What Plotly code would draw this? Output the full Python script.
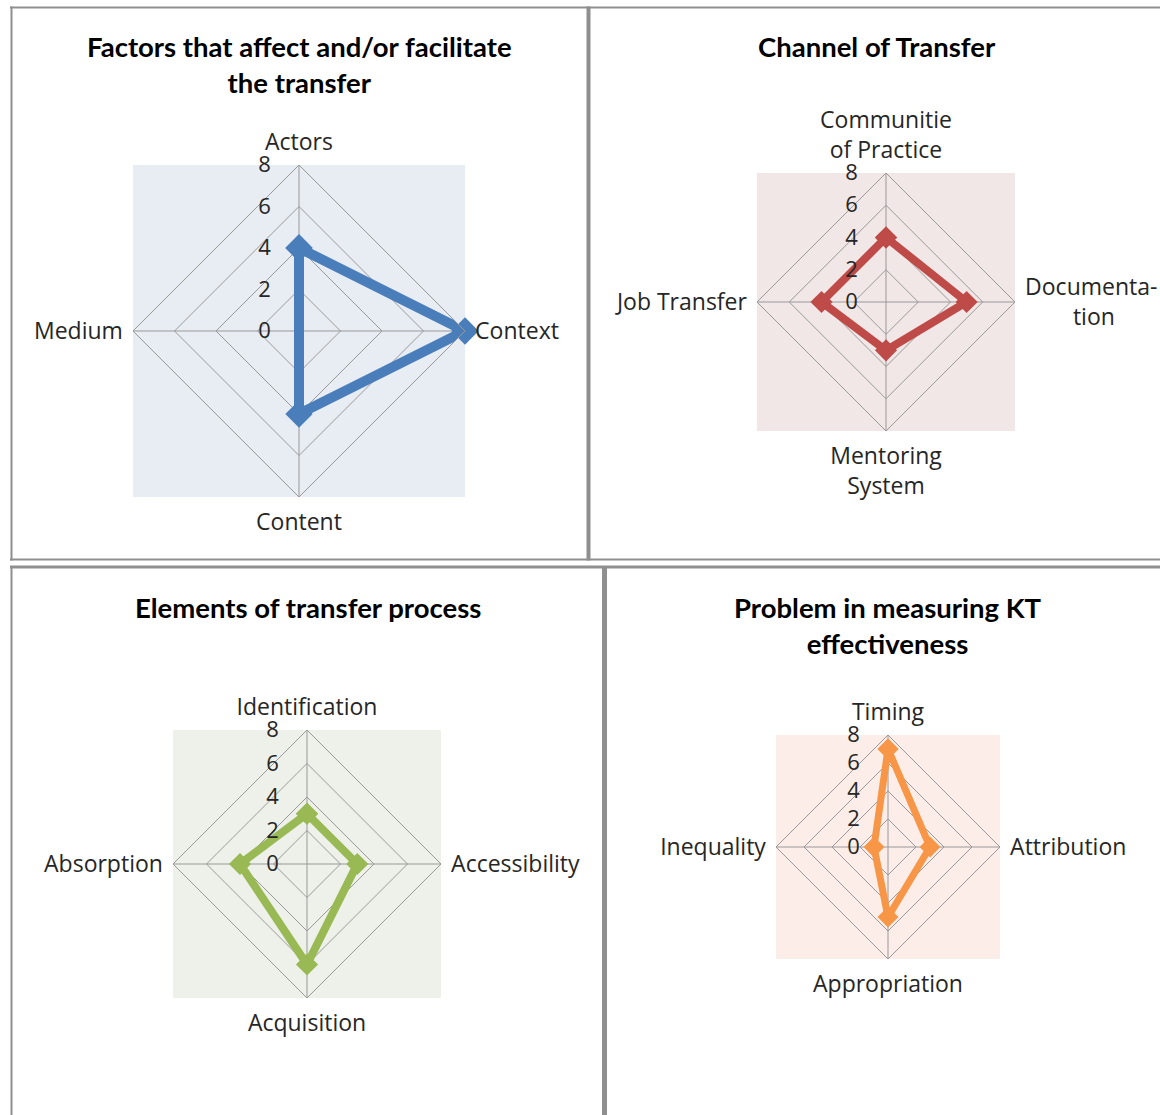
import plotly.graph_objects as go

W, H = 1160, 1115
NB = "\u00a0"

# --- data ---------------------------------------------------------------
factors_title = "Factors that affect and/or facilitate<br>the transfer"
factors_cats = ["Actors", "Context", "Content", "Medium"]
factors_labels = ["Actors", "Context", "Content", "Medium"]
factors_vals = [4, 8, 4, 0]

channel_title = "Channel of Transfer"
channel_cats = ["Communities of Practice", "Documentation", "Mentoring System", "Job Transfer"]
channel_labels = ["Communitie<br>of Practice", "Documenta-<br>" + NB * 8 + "tion",
                  "Mentoring<br>System", "Job Transfer"]
channel_vals = [4, 5, 3, 4]

elements_title = "Elements of transfer process"
elements_cats = ["Identification", "Accessibility", "Acquisition", "Absorption"]
elements_labels = ["Identification", "Accessibility", "Acquisition", "Absorption"]
elements_vals = [3, 3, 6, 4]

problem_title = "Problem in measuring KT<br>effectiveness"
problem_cats = ["Timing", "Attribution", "Appropriation", "Inequality"]
problem_labels = ["Timing", "Attribution", "Appropriation", "Inequality"]
problem_vals = [7, 3, 5, 1]

radial_ticks = [0, 2, 4, 6, 8]

# --- panel styling: centre (px), radius (px), colours, marker sizes ------
panels = [
    dict(title=factors_title, cats=factors_cats, labels=factors_labels, vals=factors_vals,
         cx=299, cy=331, r=166, bg="#e8ecf3", color="#4a7ebb",
         lw=10, ms=21, tx=299, ty=65),
    dict(title=channel_title, cats=channel_cats, labels=channel_labels, vals=channel_vals,
         cx=886, cy=302, r=129, bg="#f2e7e7", color="#be4b48",
         lw=8, ms=17, tx=877, ty=47),
    dict(title=elements_title, cats=elements_cats, labels=elements_labels, vals=elements_vals,
         cx=307, cy=864, r=134, bg="#eef1e9", color="#98b954",
         lw=8, ms=17, tx=308, ty=607),
    dict(title=problem_title, cats=problem_cats, labels=problem_labels, vals=problem_vals,
         cx=888, cy=847, r=112, bg="#fcede8", color="#f79646",
         lw=7, ms=16, tx=888, ty=625),
]

LABEL_FONT = dict(family="Open Sans, sans-serif", size=23, color="#262626")
TICK_FONT = dict(family="Open Sans, sans-serif", size=22, color="#262626")
TITLE_FONT = dict(family="Lato, Open Sans, sans-serif", size=27.5, color="#000000")
GRID = "#999999"
CLEAR = "rgba(0,0,0,0)"

fig = go.Figure()
layout = dict(
    width=W, height=H,
    margin=dict(l=0, r=0, t=0, b=0),
    paper_bgcolor="white",
    showlegend=False,
    shapes=[],
    annotations=[],
)

for i, p in enumerate(panels):
    key = "polar" if i == 0 else f"polar{i + 1}"
    r = p["r"]
    x0, x1 = (p["cx"] - r) / W, (p["cx"] + r) / W
    y0, y1 = 1 - (p["cy"] + r) / H, 1 - (p["cy"] - r) / H

    layout[key] = dict(
        domain=dict(x=[x0, x1], y=[y0, y1]),
        bgcolor=CLEAR,
        gridshape="linear",
        angularaxis=dict(
            direction="clockwise", rotation=90,
            showline=True, linecolor=GRID, linewidth=1,
            gridcolor=GRID, gridwidth=1,
            tickmode="array", tickvals=p["cats"], ticktext=p["labels"],
            ticks="outside", ticklen=5, tickcolor=CLEAR,
            tickfont=LABEL_FONT,
        ),
        radialaxis=dict(
            range=[0, 8], tickvals=radial_ticks, angle=90,
            side="counterclockwise", showline=False,
            gridcolor=GRID, gridwidth=1,
            ticks="outside", ticklen=20, tickcolor=CLEAR,
            tickfont=TICK_FONT, tickangle=90,
        ),
    )
    # square plot-area fill behind the diamond
    layout["shapes"].append(dict(
        type="rect", xref="paper", yref="paper",
        x0=x0, x1=x1, y0=y0, y1=y1,
        fillcolor=p["bg"], line=dict(width=0), layer="below",
    ))
    layout["annotations"].append(dict(
        text=f"<b>{p['title']}</b>", xref="paper", yref="paper",
        x=p["tx"] / W, y=1 - p["ty"] / H, showarrow=False,
        font=TITLE_FONT, xanchor="center", yanchor="middle",
    ))

    theta = p["cats"] + p["cats"][:1]
    rr = p["vals"] + p["vals"][:1]
    fig.add_trace(go.Scatterpolar(
        r=rr, theta=theta, subplot=key, mode="lines+markers",
        line=dict(color=p["color"], width=p["lw"]),
        marker=dict(symbol="diamond", size=p["ms"], color=p["color"]),
        hoverinfo="skip",
    ))

# table-cell borders around each panel
BORDER = "#8f8f8f"


def hline(x0, x1, y, w):
    layout["shapes"].append(dict(type="line", xref="paper", yref="paper",
        x0=x0 / W, x1=x1 / W, y0=1 - y / H, y1=1 - y / H,
        line=dict(color=BORDER, width=w)))


def vline(x, y0, y1, w):
    layout["shapes"].append(dict(type="line", xref="paper", yref="paper",
        x0=x / W, x1=x / W, y0=1 - y0 / H, y1=1 - y1 / H,
        line=dict(color=BORDER, width=w)))


hline(10, 1160, 7.5, 2)
hline(10, 1160, 559.5, 2)
hline(10, 1160, 567, 3)
vline(11.5, 6.5, 560.5, 2)
vline(11.5, 566, 1115, 2)
vline(588.5, 6.5, 560.5, 4)
vline(604.5, 566, 1115, 5)

fig.update_layout(**layout)
fig.write_html("out.html")
